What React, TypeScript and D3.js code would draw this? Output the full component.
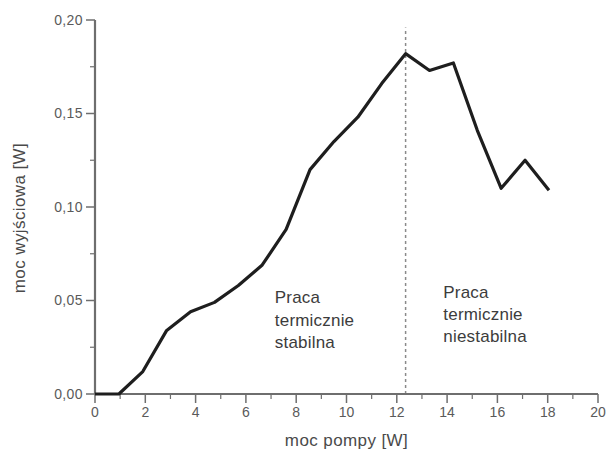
import React from "react";
import * as d3 from "d3";

const pumpPower = [0, 0.95, 1.9, 2.85, 3.8, 4.75, 5.7, 6.65, 7.6, 8.55, 9.5, 10.45, 11.4, 12.35, 13.3, 14.25, 15.2, 16.15, 17.1, 18.05];
const outputPower = [0, 0, 0.012, 0.034, 0.044, 0.049, 0.058, 0.069, 0.088, 0.12, 0.135, 0.148, 0.166, 0.182, 0.173, 0.177, 0.141, 0.11, 0.125, 0.109];
const xTicks = [0, 2, 4, 6, 8, 10, 12, 14, 16, 18, 20];
const xMinor = [1, 3, 5, 7, 9, 11, 13, 15, 17, 19];
const yTicks = [0, 0.05, 0.1, 0.15, 0.2];
const yMinor = [0.025, 0.075, 0.125, 0.175];
const boundaryX = 12.35;
const boundaryTop = 0.196;
const leftLabel = ["Praca", "termicznie", "stabilna"];
const rightLabel = ["Praca", "termicznie", "niestabilna"];
const xTitle = "moc pompy [W]";
const yTitle = "moc wyjściowa [W]";

const W = 606;
const H = 451;
const font = "'Liberation Sans', Arial, sans-serif";

export default function App() {
  const x = d3.scaleLinear().domain([0, 20]).range([95, 598]);
  const y = d3.scaleLinear().domain([0, 0.2]).range([394, 20]);
  const pts: [number, number][] = pumpPower.map((p, i) => [p, outputPower[i]]);
  const line = d3
    .line<[number, number]>()
    .x((d) => x(d[0]))
    .y((d) => y(d[1]))
    .curve(d3.curveLinear);
  const fmt = (v: number) => v.toFixed(2).replace(".", ",");
  const axisColor = "#6e6e6e";
  const labelColor = "#5a5a5a";

  return (
    <svg width={W} height={H} style={{ position: "absolute", left: 0, top: 0, background: "#fff" }}>
      <line
        x1={x(boundaryX)}
        x2={x(boundaryX)}
        y1={y(0)}
        y2={y(boundaryTop)}
        stroke="#8a8a8a"
        strokeWidth={1.5}
        strokeDasharray="3,3"
      />
      <line x1={x(0)} x2={x(0)} y1={y(0)} y2={y(0.2)} stroke={axisColor} strokeWidth={2.2} />
      <line x1={x(0)} x2={x(20)} y1={y(0)} y2={y(0)} stroke={axisColor} strokeWidth={2.2} />
      {yTicks.map((t) => (
        <g key={"yt" + t}>
          <line x1={x(0) - 9} x2={x(0)} y1={y(t)} y2={y(t)} stroke={axisColor} strokeWidth={1.5} />
          <text
            x={x(0) - 12}
            y={y(t)}
            dy="0.35em"
            textAnchor="end"
            fontFamily={font}
            fontSize={14}
            letterSpacing={0.4}
            fill={labelColor}
          >
            {fmt(t)}
          </text>
        </g>
      ))}
      {yMinor.map((t) => (
        <line key={"ym" + t} x1={x(0) - 5} x2={x(0)} y1={y(t)} y2={y(t)} stroke={axisColor} strokeWidth={1.2} />
      ))}
      {xTicks.map((t) => (
        <g key={"xt" + t}>
          <line x1={x(t)} x2={x(t)} y1={y(0)} y2={y(0) + 9} stroke={axisColor} strokeWidth={1.5} />
          <text
            x={x(t)}
            y={y(0) + 23}
            textAnchor="middle"
            fontFamily={font}
            fontSize={14}
            fill={labelColor}
          >
            {t}
          </text>
        </g>
      ))}
      {xMinor.map((t) => (
        <line key={"xm" + t} x1={x(t)} x2={x(t)} y1={y(0)} y2={y(0) + 5} stroke={axisColor} strokeWidth={1.2} />
      ))}
      <path d={line(pts) || ""} fill="none" stroke="#1e1e1e" strokeWidth={3.2} strokeLinejoin="round" />
      <text fontFamily={font} fontSize={17} fill="#3c3c3c" letterSpacing={0.2}>
        {leftLabel.map((s, i) => (
          <tspan key={"l" + i} x={x(7.15)} y={303 + i * 22.5}>
            {s}
          </tspan>
        ))}
      </text>
      <text fontFamily={font} fontSize={17} fill="#3c3c3c" letterSpacing={0.2}>
        {rightLabel.map((s, i) => (
          <tspan key={"r" + i} x={x(13.85)} y={298 + i * 22.2}>
            {s}
          </tspan>
        ))}
      </text>
      <text
        x={(x(0) + x(20)) / 2}
        y={446}
        textAnchor="middle"
        fontFamily={font}
        fontSize={17}
        letterSpacing={0.4}
        fill="#4a4a4a"
      >
        {xTitle}
      </text>
      <text
        transform={`translate(25, 218) rotate(-90)`}
        textAnchor="middle"
        fontFamily={font}
        fontSize={17}
        letterSpacing={0.4}
        fill="#4a4a4a"
      >
        {yTitle}
      </text>
    </svg>
  );
}
